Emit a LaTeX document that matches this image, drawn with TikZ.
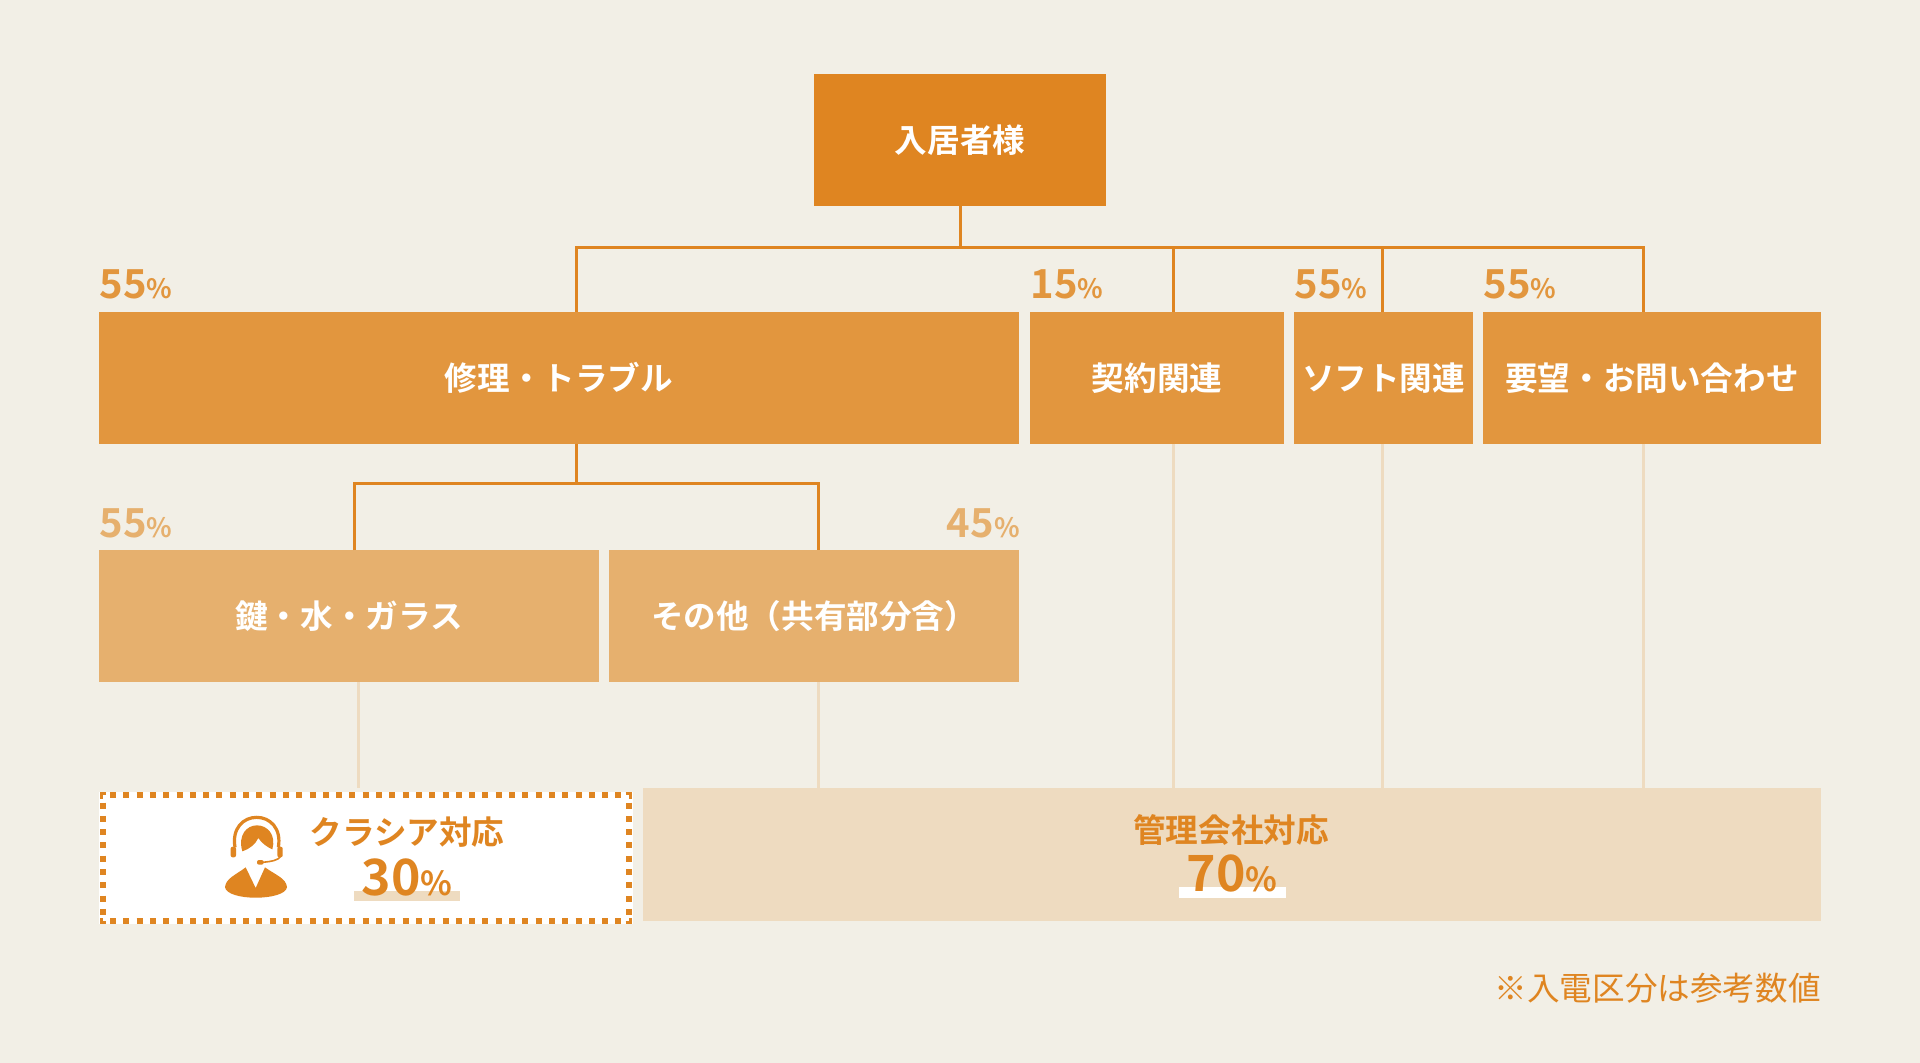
\documentclass[tikz,border=0pt]{standalone}
\usepackage{fontspec}
\setmainfont{Noto Sans CJK JP}[BoldFont={Noto Sans CJK JP Bold}]
\definecolor{paper}{RGB}{242,239,230}
\definecolor{toporange}{RGB}{223,133,33}
\definecolor{midorange}{RGB}{226,150,62}
\definecolor{softorange}{RGB}{230,176,110}
\definecolor{paleorange}{RGB}{238,219,192}
\newcommand{\pct}[2]{{\fontsize{20}{20}\bfseries #1}{\fontsize{13.3}{13.3}\bfseries #2}}
\newcommand{\bigpct}[2]{{\fontsize{25}{25}\bfseries #1}{\fontsize{16.5}{16.5}\bfseries #2}}
\tikzset{
  box/.style={inner sep=0pt,outer sep=0pt,text=white,font=\fontsize{16.3}{16.3}\bfseries},
  rate/.style={inner sep=0pt,anchor=base west},
  wire/.style={draw=toporange,line width=1.5pt},
  thread/.style={draw=paleorange,line width=1.5pt},
  title/.style={inner sep=0pt,text=toporange,font=\fontsize{16.3}{16.3}\bfseries},
  share/.style={inner sep=0pt,anchor=base,text=toporange},
  frameline/.style={draw=toporange,line width=3pt,dash pattern=on 3pt off 3.65pt,dash phase=3pt},
  framecorner/.style={draw=toporange,line width=1.5pt}
}
\newcommand{\orgbox}[7]{\node[box,fill=#6,minimum width={(#4-#2)*0.5pt},minimum height={(#5-#3)*0.5pt}]
  (#1) at ({(#2+#4)/2},{(#3+#5)/2}) {#7};}
\begin{document}
\begin{tikzpicture}[x=0.5pt,y=-0.5pt]
\useasboundingbox (0,0) rectangle (1920,1063);
\fill[paper] (0,0) rectangle (1920,1063);
% boxes
\orgbox{resident}{814}{74}{1106}{206}{toporange}{入居者様}
\orgbox{repair}{99}{312}{1019}{444}{midorange}{修理・トラブル}
\orgbox{contract}{1030}{312}{1284}{444}{midorange}{契約関連}
\orgbox{soft}{1294}{312}{1473}{444}{midorange}{ソフト関連}
\orgbox{request}{1483}{312}{1821}{444}{midorange}{要望・お問い合わせ}
\orgbox{keys}{99}{550}{599}{682}{softorange}{鍵・水・ガラス}
\orgbox{others}{609}{550}{1019}{682}{softorange}{その他（共有部分含）}
\orgbox{mgmt}{643}{788}{1821}{921}{paleorange}{}
\orgbox{crasia}{99}{792}{633}{924}{white}{}
% dotted frame
\draw[frameline] (102.7,795.2) -- (623,795.2);
\draw[frameline] (102.7,921.3) -- (623,921.3);
\draw[frameline] (102.7,795.2) -- (102.7,915);
\draw[frameline] (629,795.2) -- (629,915);
\foreach \cx/\cy/\sx/\sy in {99.7/792/1/1,632/792/-1/1,99.7/924.3/1/-1,632/924.3/-1/-1}{
  \draw[framecorner] (\cx+\sx*6.5,\cy+\sy*1.5) -- (\cx+\sx*1.5,\cy+\sy*1.5) -- (\cx+\sx*1.5,\cy+\sy*6.5);
}
% rates
\node[rate,text=midorange] (r1) at (99,299) {\pct{55}{\%}};
\node[rate,text=midorange] (r2) at (1030,299) {\pct{15}{\%}};
\node[rate,text=midorange] (r3) at (1294,299) {\pct{55}{\%}};
\node[rate,text=midorange] (r4) at (1483,299) {\pct{55}{\%}};
\node[rate,text=softorange] (r5) at (99,538) {\pct{55}{\%}};
\node[rate,text=softorange,anchor=base east] (r6) at (1020,538) {\pct{45}{\%}};
% connectors
\coordinate (busa) at (576,248);
\coordinate (busb) at (1643,248);
\coordinate (busc) at (354,484);
\coordinate (busd) at (818,484);
\coordinate (tapa) at (1173,248);
\coordinate (tapb) at (1382,248);
\coordinate (tapc) at (358,682);
\draw[wire] (resident.south) -- (resident.south |- busa);
\draw[wire] (busa |- repair.north) -- (busa) -- (busb) -- (busb |- request.north);
\draw[wire] (tapa) -- (tapa |- contract.north);
\draw[wire] (tapb) -- (tapb |- soft.north);
\draw[wire] (busa |- repair.south) -- (busa |- busc);
\draw[wire] (busc |- keys.north) -- (busc) -- (busd) -- (busd |- others.north);
\draw[thread] (tapa |- contract.south) -- (tapa |- mgmt.north);
\draw[thread] (tapb |- soft.south) -- (tapb |- mgmt.north);
\draw[thread] (busb |- request.south) -- (busb |- mgmt.north);
\draw[thread] (tapc |- keys.south) -- (tapc |- mgmt.north);
\draw[thread] (busd |- others.south) -- (busd |- mgmt.north);
% totals
\fill[paleorange] (354,891) rectangle (460,901);
\fill[white] (1179,887) rectangle (1286,898);
\node[title] (crasianame) at (407,832) {クラシア対応};
\node[share] (crasiashare) at (407,895) {\bigpct{30}{\%}};
\node[title] (mgmtname) at (1231,830) {管理会社対応};
\node[share] (mgmtshare) at (1232,891) {\bigpct{70}{\%}};
\node[inner sep=0pt,anchor=east,text=toporange,font=\fontsize{16.3}{16.3}\selectfont] (note) at (1821,988) {※入電区分は参考数値};
% headset figure
\begin{scope}[shift={(215,810)},x=0.1667pt,y=-0.1667pt]
  \fill[toporange] (30,232) .. controls (32,205) and (62,195) .. (92,172) -- (122,234) -- (150,172)
    .. controls (182,195) and (214,205) .. (216,232) .. controls (212,252) and (170,263) .. (122,263)
    .. controls (75,263) and (34,252) .. (30,232) -- cycle;
  \fill[toporange] (82,124) .. controls (68,75) and (95,46) .. (126,46) .. controls (158,46) and (184,75) .. (172,118)
    .. controls (158,112) and (140,100) .. (130,84) .. controls (122,102) and (102,118) .. (82,124) -- cycle;
  \draw[toporange,line width=1.6pt] (60,112) .. controls (50,55) and (85,22) .. (125,22)
    .. controls (165,22) and (200,55) .. (190,112);
  \fill[toporange,rounded corners=1pt] (47,110) rectangle (63,142);
  \fill[toporange,rounded corners=1pt] (187,110) rectangle (203,142);
  \draw[toporange,line width=0.8pt] (196,140) .. controls (190,150) and (170,155) .. (140,157);
  \fill[toporange,rounded corners=1pt] (126,150) rectangle (146,164);
\end{scope}
\end{tikzpicture}
\end{document}
